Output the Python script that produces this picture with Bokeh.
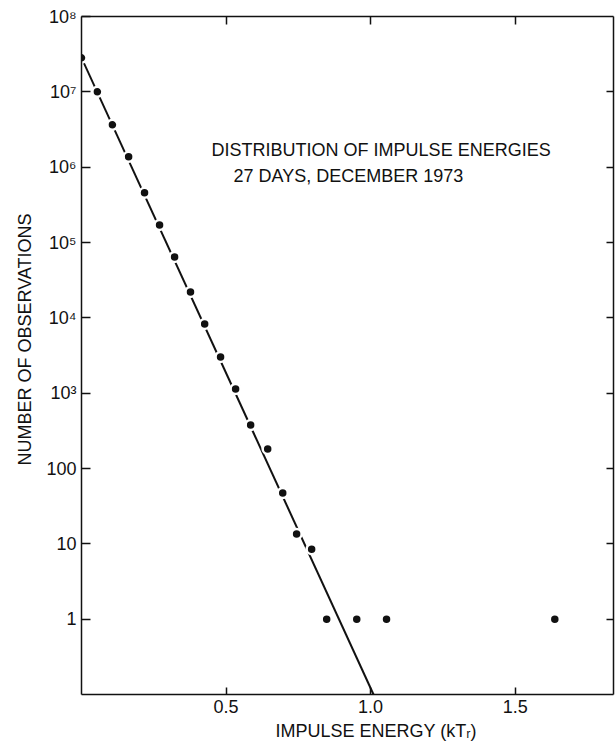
from bokeh.plotting import figure
from bokeh.models import LogAxis, LinearAxis, FixedTicker, Label, Range1d, CustomJSTickFormatter, Title
from bokeh.embed import file_html
from bokeh.resources import INLINE

# ---- data ----
energy = [0.000, 0.055, 0.107, 0.163, 0.218, 0.270, 0.322, 0.377, 0.426, 0.481,
          0.533, 0.585, 0.644, 0.696, 0.744, 0.796, 0.848, 0.952, 1.055, 1.637]
observations = [2.83e7, 1.0e7, 3.65e6, 1.37e6, 4.56e5, 1.71e5, 6.44e4, 2.21e4, 8.3e3, 3.03e3,
                1.14e3, 378, 182, 47.3, 13.5, 8.5, 1.0, 1.0, 1.0, 1.0]
fit_energy = [0.0, 1.01]
fit_observations = [2.83e7, 0.1]

y_ticks = [1, 10, 100, 1000, 10000, 100000, 1000000, 10000000, 100000000]
y_tick_labels = ["1", "10", "100", "10\u00b3", "10\u2074", "10\u2075", "10\u2076", "10\u2077", "10\u2078"]
x_ticks = [0.5, 1.0, 1.5]
x_tick_labels = ["0.5", "1.0", "1.5"]

title_lines = ["DISTRIBUTION OF IMPULSE ENERGIES", "27 DAYS, DECEMBER 1973"]
x_title = "IMPULSE ENERGY (kT\u1d63)"
y_title = "NUMBER OF OBSERVATIONS"

FONT = "Liberation Sans"
INK = "#111111"

p = figure(width=616, height=748, y_axis_type="log",
           x_range=Range1d(0, 1.84), y_range=Range1d(0.1, 1e8),
           output_backend="svg", toolbar_location=None,
           min_border_left=81, min_border_right=3, min_border_top=16, min_border_bottom=54)
p.outline_line_color = None
p.xgrid.visible = False
p.ygrid.visible = False
p.background_fill_color = "white"
p.border_fill_color = "white"

# left axis
ya = p.yaxis[0]
ya.ticker = FixedTicker(ticks=y_ticks, minor_ticks=[])
ya.major_label_overrides = {t: l for t, l in zip(y_ticks, y_tick_labels)}
ya.major_tick_in = 9
ya.major_tick_out = 0
ya.minor_tick_line_color = None
ya.major_label_standoff = 5
ya.axis_line_width = 1.5
ya.axis_line_color = INK
ya.major_tick_line_width = 1.5
ya.major_tick_line_color = INK
ya.major_label_text_font = FONT
ya.major_label_text_font_size = "18px"
ya.major_label_text_color = INK

# bottom axis
xa = p.xaxis[0]
xa.ticker = FixedTicker(ticks=x_ticks, minor_ticks=[])
xa.major_label_overrides = {t: l for t, l in zip(x_ticks, x_tick_labels)}
xa.major_tick_in = 7
xa.major_tick_out = 0
xa.minor_tick_line_color = None
xa.major_label_standoff = 5
xa.axis_line_width = 1.5
xa.axis_line_color = INK
xa.major_tick_line_width = 1.5
xa.major_tick_line_color = INK
xa.major_label_text_font = FONT
xa.major_label_text_font_size = "18px"
xa.major_label_text_color = INK

# right axis (ticks only)
ra = LogAxis(ticker=FixedTicker(ticks=y_ticks[:-1], minor_ticks=[]),
             formatter=CustomJSTickFormatter(code="return ''"),
             major_tick_in=7, major_tick_out=0, minor_tick_line_color=None,
             major_label_standoff=0,
             axis_line_width=1.5, axis_line_color=INK,
             major_tick_line_width=1.5, major_tick_line_color=INK)
p.add_layout(ra, "right")

# top axis (ticks only)
ta = LinearAxis(ticker=FixedTicker(ticks=x_ticks, minor_ticks=[]),
                formatter=CustomJSTickFormatter(code="return ''"),
                major_tick_in=8, major_tick_out=0, minor_tick_line_color=None,
                major_label_standoff=0,
                axis_line_width=1.5, axis_line_color=INK,
                major_tick_line_width=1.5, major_tick_line_color=INK)
p.add_layout(ta, "above")

# axis titles as Title panels (placed outside the frame)
p.add_layout(Title(text=x_title, align="left", offset=194, standoff=6,
                   text_font=FONT, text_font_size="18px", text_font_style="normal",
                   text_color=INK), "below")
p.add_layout(Title(text=y_title, align="right", offset=197, standoff=18,
                   text_font=FONT, text_font_size="18px", text_font_style="normal",
                   text_color=INK), "left")

# fitted line and points
p.line(fit_energy, fit_observations, line_width=2, line_color=INK)
p.scatter(energy, observations, marker="circle", size=10,
          fill_color=INK, line_color="white", line_width=2.5)

# annotation inside the frame
p.add_layout(Label(x=0.450, y=1.70e6, text=title_lines[0], text_font=FONT,
                   text_font_size="18px", text_baseline="middle", text_color=INK))
p.add_layout(Label(x=0.526, y=7.66e5, text=title_lines[1], text_font=FONT,
                   text_font_size="18px", text_baseline="middle", text_color=INK))

open("out.html", "w").write(file_html(p, INLINE))
